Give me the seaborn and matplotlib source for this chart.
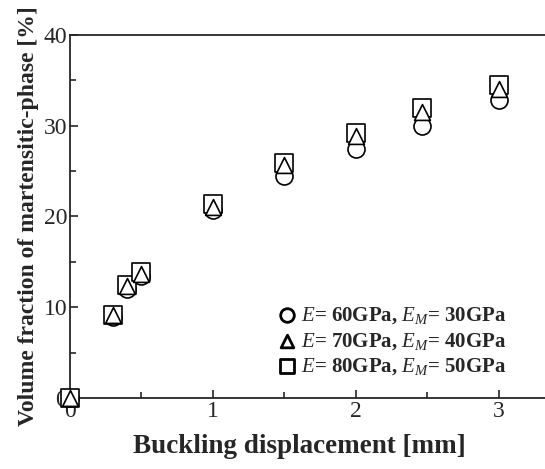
import matplotlib
matplotlib.use('Agg')
import matplotlib.pyplot as plt
import seaborn as sns
import pandas as pd
from matplotlib.ticker import MultipleLocator

# data
disp = [0, 0.3, 0.4, 0.5, 1.0, 1.5, 2.0, 2.46, 3.0]
vf_60 = [0, 8.9, 12.0, 13.4, 20.7, 24.5, 27.4, 30.0, 32.8]
vf_70 = [0, 9.1, 12.3, 13.7, 21.1, 25.7, 28.9, 31.5, 34.1]
vf_80 = [0, 9.2, 12.5, 13.9, 21.4, 25.9, 29.2, 31.9, 34.5]
labels = [r'$E$= 60GPa, $E_M$= 30GPa',
          r'$E$= 70GPa, $E_M$= 40GPa',
          r'$E$= 80GPa, $E_M$= 50GPa']

sns.set_style('ticks')
plt.rcParams['font.family'] = ['Liberation Serif', 'DejaVu Serif']
plt.rcParams['mathtext.fontset'] = 'custom'
plt.rcParams['mathtext.rm'] = 'Liberation Serif:bold'
plt.rcParams['mathtext.it'] = 'Liberation Serif:italic'
plt.rcParams['mathtext.bf'] = 'Liberation Serif:bold'

fig = plt.figure(figsize=(5.45, 4.69), dpi=100)
ax = fig.add_axes([0.1284, 0.1514, 0.892, 0.774])

df = pd.DataFrame({'x': disp, 'c': vf_60, 't': vf_70, 's': vf_80})

# draw order: circles, squares, triangles (so triangle shows inside square)
series = [('c', 'o', 150, labels[0], 3),
          ('s', 's', 170, labels[2], 4),
          ('t', '^', 130, labels[1], 5)]
for col, mk, size, lab, z in series:
    sns.scatterplot(data=df, x='x', y=col, marker=mk, s=size,
                    facecolor='white', edgecolor='black', linewidth=1.2,
                    label=lab, ax=ax, zorder=z, clip_on=False)

ax.set_xlim(0, 3.4)
ax.set_ylim(0, 40)
ax.xaxis.set_major_locator(MultipleLocator(1))
ax.xaxis.set_minor_locator(MultipleLocator(0.5))
ax.yaxis.set_major_locator(MultipleLocator(10))
ax.yaxis.set_minor_locator(MultipleLocator(5))
ax.tick_params(which='both', direction='in', width=1.2, labelsize=17,
               top=False, right=False, pad=2)
ax.tick_params(which='major', length=6)
ax.tick_params(which='minor', length=4)
for sp in ax.spines.values():
    sp.set_linewidth(1.3)

ax.set_xlabel('Buckling displacement [mm]', fontsize=19.5, fontweight='bold')
ax.xaxis.set_label_coords(0.471, -0.1)
ax.set_ylabel('Volume fraction of martensitic-phase [%]', fontsize=17,
              fontweight='bold', labelpad=3)

handles, labs = ax.get_legend_handles_labels()
order = [labs.index(l) for l in labels]
leg = ax.legend([handles[i] for i in order], [labs[i] for i in order],
                loc='lower right', bbox_to_anchor=(0.915, 0.035),
                frameon=False, fontsize=15, handletextpad=0.2,
                handlelength=1.0, labelspacing=0.22, borderaxespad=0,
                markerscale=0.8)
for t in leg.get_texts():
    t.set_fontweight('bold')
for h in leg.legend_handles:
    h.set_linewidth(2)

fig.savefig('out.png', dpi=100)
